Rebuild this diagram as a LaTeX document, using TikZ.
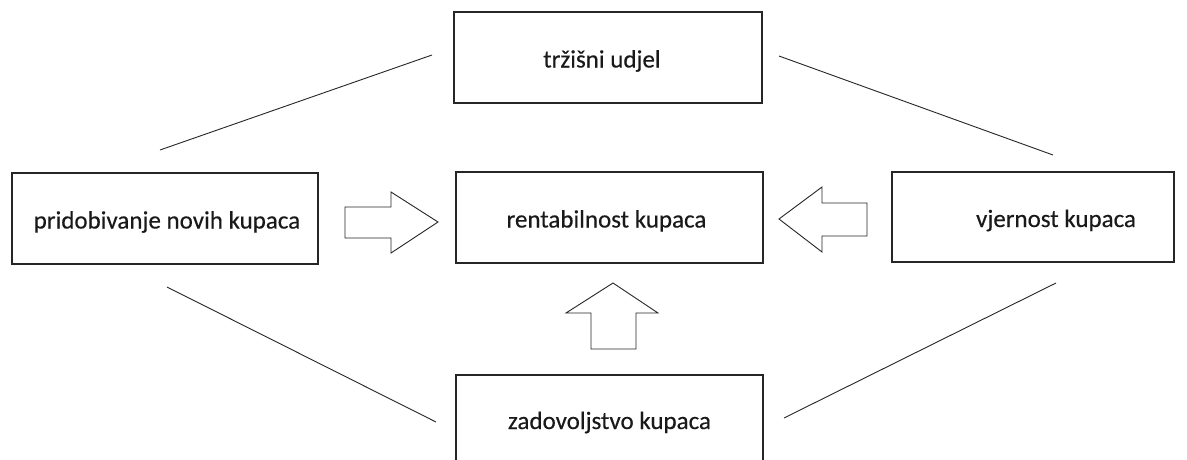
\documentclass[tikz,border=0pt]{standalone}
\usepackage{fontspec}
\setmainfont{Carlito}
\newfontfamily\boxfont{Carlito}[FakeBold=0.3]
\begin{document}
\begin{tikzpicture}[x=1pt,y=-1pt,
  box/.style={draw=black!85, line width=1.1pt, inner sep=0pt, text height=22pt, text depth=2pt, font=\boxfont\fontsize{25}{30}\selectfont, text=black!90},
  conn/.style={draw=black!85, line width=0.9pt},
  bigarrow/.style={draw=black!85, line width=0.9pt, fill=white, line join=miter}]
\clip (0,0) rectangle (1187,459);
\fill[white] (0,0) rectangle (1187,459);
% boxes
\node[box, minimum width=308pt, minimum height=91pt] (top) at (608,57.5) {\hspace*{-12pt}tržišni udjel};
\node[box, minimum width=306pt, minimum height=91pt] (left) at (165,218.5) {\hspace*{4pt}pridobivanje novih kupaca};
\node[box, minimum width=307pt, minimum height=91pt] (center) at (609.5,217.5) {\hspace*{-6pt}rentabilnost kupaca};
\node[box, minimum width=282pt, minimum height=90pt] (right) at (1033,217) {\hspace*{46pt}vjernost kupaca};
\node[box, minimum width=307pt, minimum height=88pt] (bottom) at (609.5,419) {zadovoljstvo kupaca};
% connectors (free lines between boxes)
\coordinate (tl1) at (160,150); \coordinate (tl2) at (432,55);
\coordinate (tr1) at (779,56); \coordinate (tr2) at (1053,155);
\coordinate (bl1) at (167,287); \coordinate (bl2) at (436,422);
\coordinate (br1) at (784,418); \coordinate (br2) at (1056,283);
\draw[conn] (tl1) -- (tl2);
\draw[conn] (tr1) -- (tr2);
\draw[conn] (bl1) -- (bl2);
\draw[conn] (br1) -- (br2);
% block arrows
\draw[bigarrow] (345,207) -- (391,207) -- (391,192) -- (438,222) -- (391,253) -- (391,238) -- (345,238) -- cycle;
\draw[bigarrow] (867,203) -- (822,203) -- (822,187) -- (779,219) -- (822,252) -- (822,236) -- (867,236) -- cycle;
\draw[bigarrow] (591,349) -- (591,313) -- (566,313) -- (613,283) -- (658,313) -- (636,313) -- (636,349) -- cycle;
\end{tikzpicture}
\end{document}
